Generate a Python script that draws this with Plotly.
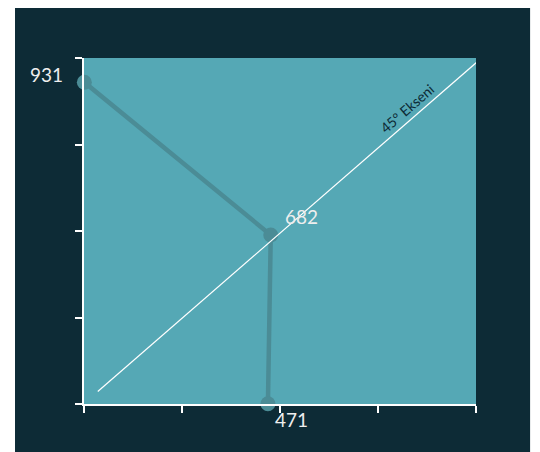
import plotly.graph_objects as go
import numpy as np

# Colours
colors = {
    'page': '#ffffff',
    'panel': '#0d2b36',
    'plot': '#55a8b5',
    'line': '#4b8c96',
    'text': '#eeeeee',
    'note': '#0d2b36',
}

# Data (axis units)
path_x = [408, 672, 668]
path_y = [931, 682, 407]
point_labels = ['931', '682', '471']

diag_x = [427, 967]
diag_y = [427, 967]
diag_label = '45° Ekseni'

x_range = [407.5, 962.7]
y_range = [406.5, 970.6]

fig = go.Figure()

fig.add_trace(go.Scatter(
    x=path_x, y=path_y,
    mode='lines+markers',
    line=dict(color=colors['line'], width=4.5),
    marker=dict(color=colors['line'], size=15),
    cliponaxis=False,
    hoverinfo='skip',
    showlegend=False,
))

fig.add_trace(go.Scatter(
    x=diag_x, y=diag_y,
    mode='lines',
    line=dict(color='#ffffff', width=1.2),
    hoverinfo='skip',
    showlegend=False,
))

# label offsets relative to each point
label_pos = [
    dict(xanchor='right', yanchor='middle', xshift=-19, yshift=8),
    dict(xanchor='left', yanchor='middle', xshift=12, yshift=19),
    dict(xanchor='left', yanchor='middle', xshift=5, yshift=-16),
]
for x, y, txt, pos in zip(path_x, path_y, point_labels, label_pos):
    fig.add_annotation(
        x=x, y=y, text=txt, showarrow=False,
        font=dict(size=19, color=colors['text']),
        **pos
    )

fig.add_annotation(
    x=876, y=876, text=diag_label, showarrow=False,
    textangle=-41, xshift=-8, yshift=8,
    font=dict(size=14, color=colors['note']),
)

# dark panel and plot area backgrounds
fig.add_shape(type='rect', xref='paper', yref='paper',
              x0=-0.176, x1=1.138, y0=-0.139, y1=1.16,
              fillcolor=colors['panel'], line_width=0, layer='below')
fig.add_shape(type='rect', xref='paper', yref='paper',
              x0=0, x1=1, y0=0, y1=1,
              fillcolor=colors['plot'], line_width=0, layer='below')

axis_style = dict(
    showgrid=False, zeroline=False,
    showline=True, linecolor='#ffffff', linewidth=2,
    ticks='outside', ticklen=7, tickwidth=1.5, tickcolor='#ffffff',
    showticklabels=False,
)
fig.update_xaxes(range=x_range, tickvals=np.linspace(*x_range, 5), **axis_style)
fig.update_yaxes(range=y_range, tickvals=np.linspace(*y_range, 5), **axis_style)

fig.update_layout(
    width=532, height=444,
    paper_bgcolor=colors['page'],
    plot_bgcolor=colors['plot'],
    font_family='Gill Sans MT, Gill Sans, Lato, sans-serif',
    margin=dict(l=76, r=64, t=50, b=48),
)

fig.write_html('out.html')
